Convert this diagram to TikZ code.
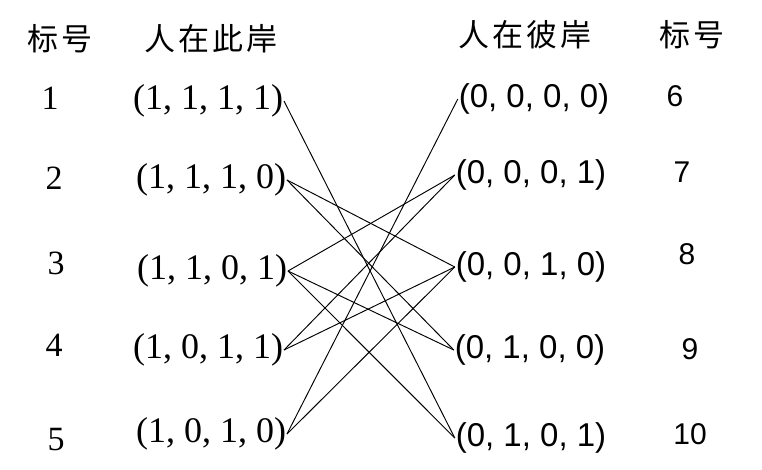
\documentclass[tikz,border=0pt]{standalone}
\usepackage{fontspec}
\newfontfamily\cjk[LetterSpace=10]{Noto Sans CJK SC}
\newfontfamily\lserif{Liberation Serif}
\newfontfamily\lsans{Liberation Sans}
\begin{document}
\begin{tikzpicture}[x=1pt,y=-1pt,
  head/.style={font=\cjk\fontsize{31}{31}\selectfont, inner sep=0pt},
  lnum/.style={font=\lserif\fontsize{34}{34}\selectfont, inner sep=0pt},
  rnum/.style={font=\lsans\fontsize{30}{30}\selectfont, inner sep=0pt},
  ltup/.style={font=\lserif\fontsize{36}{36}\selectfont, inner sep=0pt, outer sep=1pt},
  rtup/.style={font=\lsans\fontsize{33}{33}\selectfont, inner sep=0pt, outer sep=1pt},
  link/.style={line width=0.95pt, black}]
\useasboundingbox (0,0) rectangle (762,469);
\fill[white] (0,0) rectangle (762,469);
% headers
\node[head] (hl1) at (60,39) {标号};
\node[head] (hl2) at (211,39) {人在此岸};
\node[head] (hr1) at (525,35) {人在彼岸};
\node[head] (hr2) at (692,35) {标号};
% left numbers
\node[lnum] (n1) at (50,98) {1};
\node[lnum] (n2) at (54,178) {2};
\node[lnum] (n3) at (56,263) {3};
\node[lnum] (n4) at (54,345) {4};
\node[lnum] (n5) at (56,440) {5};
% right numbers
\node[rnum] (n6) at (675,96) {6};
\node[rnum] (n7) at (682,172) {7};
\node[rnum] (n8) at (687,254) {8};
\node[rnum] (n9) at (690,349) {9};
\node[rnum] (n10) at (690,434) {10};
% left tuples
\node[ltup] (s1) at (208,101) {(1, 1, 1, 1)};
\node[ltup] (s2) at (211,180) {(1, 1, 1, 0)};
\node[ltup] (s3) at (212,271) {(1, 1, 0, 1)};
\node[ltup] (s4) at (208,350) {(1, 0, 1, 1)};
\node[ltup] (s5) at (211,434) {(1, 0, 1, 0)};
% right tuples
\node[rtup] (t6) at (534,99) {(0, 0, 0, 0)};
\node[rtup] (t7) at (531,175) {(0, 0, 0, 1)};
\node[rtup] (t8) at (531,267) {(0, 0, 1, 0)};
\node[rtup] (t9) at (530,350) {(0, 1, 0, 0)};
\node[rtup] (t10) at (531,438) {(0, 1, 0, 1)};
% links
\draw[link] (s1.east) -- (t10.west);
\draw[link] (s2.east) -- (t8.west);
\draw[link] (s2.east) -- (t9.west);
\draw[link] (s3.east) -- (t7.west);
\draw[link] (s3.east) -- (t9.west);
\draw[link] (s3.east) -- (t10.west);
\draw[link] (s4.east) -- (t7.west);
\draw[link] (s4.east) -- (t8.west);
\draw[link] (s5.east) -- (t6.west);
\draw[link] (s5.east) -- (t8.west);
\end{tikzpicture}
\end{document}
